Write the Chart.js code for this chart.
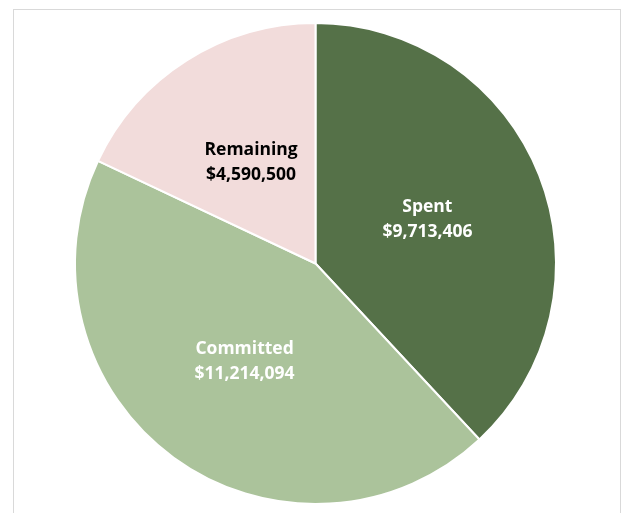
<!DOCTYPE html>
<html lang="en">
    <head>
        <meta charset="UTF-8">
        <title>Budget</title>
        <script src="https://cdn.jsdelivr.net/npm/chart.js"></script>
        <style>
            body { margin: 0; background: #fff; }
            #wrap { position: relative; width: 625px; height: 513px; overflow: hidden; }
            #frame { position: absolute; left: 13px; top: 9px; width: 606px; height: 520px; border: 1px solid #d9d9d9; }
            canvas { position: absolute; left: 0; top: 0; }
        </style>
    </head>
    <body>
        <div id="wrap">
            <div id="frame"></div>
            <canvas id="budgetChart" width="625" height="513"></canvas>
        </div>

        <script>
            const categories = ['Spent', 'Committed', 'Remaining'];
            const amounts = [9713406, 11214094, 4590500];
            const sliceColors = ['#557148', '#abc39b', '#f2dcdb'];
            const labelColors = ['#ffffff', '#ffffff', '#000000'];

            // labels drawn in the middle of each slice, two lines
            const sliceLabels = {
                id: 'sliceLabels',
                afterDatasetsDraw(chart) {
                    const ctx = chart.ctx;
                    const meta = chart.getDatasetMeta(0);
                    ctx.save();
                    ctx.font = 'bold 17.5px "Open Sans", sans-serif';
                    ctx.textAlign = 'center';
                    ctx.textBaseline = 'middle';
                    meta.data.forEach((arc, i) => {
                        const p = arc.tooltipPosition();
                        ctx.fillStyle = labelColors[i];
                        ctx.fillText(categories[i], p.x, p.y - 12);
                        ctx.fillText('$' + amounts[i].toLocaleString('en-US'), p.x, p.y + 13);
                    });
                    ctx.restore();
                }
            };

            new Chart(document.getElementById('budgetChart'), {
                type: 'pie',
                data: {
                    labels: categories,
                    datasets: [{
                        data: amounts,
                        backgroundColor: sliceColors,
                        borderColor: '#ffffff',
                        borderWidth: 2
                    }]
                },
                options: {
                    responsive: false,
                    animation: false,
                    layout: { padding: { left: 74, right: 68, top: 22, bottom: 8 } },
                    plugins: {
                        legend: { display: false },
                        tooltip: { enabled: false }
                    }
                },
                plugins: [sliceLabels]
            });
        </script>
    </body>
</html>
